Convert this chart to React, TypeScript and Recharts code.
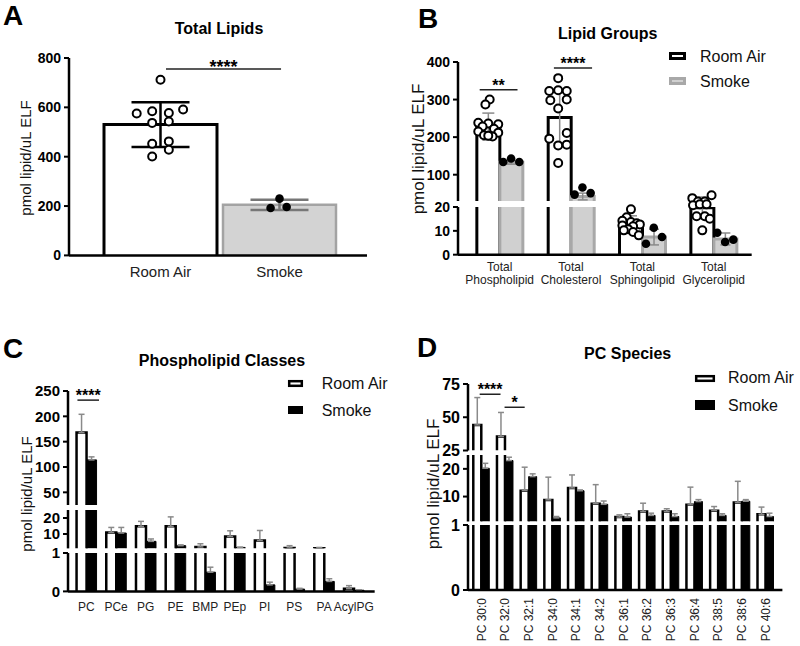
import React from "react";
import {
  ComposedChart,
  Bar,
  ErrorBar,
  Scatter,
  XAxis,
  YAxis,
  ReferenceLine,
} from "recharts";

const FONT = "Arial, 'Liberation Sans', Helvetica, sans-serif";

// ---- A: Total Lipids ----
const A_CATS = ["Room Air", "Smoke"];
const A_MEAN = [530, 205];
const A_SD = [91, 21];
const A_RA_DOTS = [712, 575, 584, 577, 591, 537, 543, 452, 462, 401, 428];
const A_SMOKE_DOTS = [192, 230, 196];

// ---- B: Lipid Groups ----
const B_CATS = [
  "Total Phospholipid",
  "Total Cholesterol",
  "Total Sphingolipid",
  "Total Glycerolipid",
];
const B_RA = [228, 252, 13.3, 19.7];
const B_RA_SD = [36, 70, 3, 4.5];
const B_SMOKE = [133, 42, 7.4, 6.6];
const B_SMOKE_SD = [5, 9, 3.3, 2.5];
const B_RA_DOTS = [
  [300, 287, 238, 236, 234, 228, 222, 215, 212, 205, 202, 204],
  [357, 323, 325, 323, 298, 300, 276, 196, 211, 178, 180, 131],
  [19.3, 16, 14.5, 14, 13.5, 13, 12.5, 12.2, 11, 10.5, 9.8, 8.4],
  [24, 22.6, 22.6, 25.2, 21, 21.4, 21.4, 16.4, 16.4, 15.4, 10.5],
];
const B_SMOKE_DOTS = [
  [134, 143, 134],
  [47, 66, 51],
  [4.9, 11.6, 7.7],
  [9.5, 5.6, 6.6],
];

// ---- C: Phospholipid Classes ----
const C_CATS = ["PC", "PCe", "PG", "PE", "BMP", "PEp", "PI", "PS", "PA", "AcylPG"];
const C_RA = [168, 11, 14.8, 14.8, 1.9, 8.5, 6, 1.3, 1.1, 0.07];
const C_RA_SD = [36, 3.1, 3.1, 5.9, 2.0, 3.5, 6.2, 1.4, 0.5, 0.08];
const C_SMOKE = [114, 10.6, 5.4, 2.7, 0.5, 1.6, 0.17, 0.06, 0.26, 0.03];
const C_SMOKE_SD = [6, 3.5, 1.5, 0.5, 0.13, 0.15, 0.07, 0.02, 0.07, 0.01];

// ---- D: PC Species ----
const D_CATS = [
  "PC 30:0", "PC 32:0", "PC 32:1", "PC 34:0", "PC 34:1", "PC 34:2", "PC 36:1",
  "PC 36:2", "PC 36:3", "PC 36:4", "PC 38:5", "PC 38:6", "PC 40:6",
];
const D_RA = [44.2, 35.6, 12.1, 8.8, 13.1, 7.4, 2.6, 4.6, 4.6, 7.0, 4.9, 7.9, 3.6];
const D_RA_SD = [20.6, 18, 8.5, 8.2, 4.7, 6.9, 0.8, 3, 1, 6.4, 1.5, 7.6, 2.6];
const D_SMOKE = [20.2, 23, 17.2, 2.3, 12.1, 7.2, 2.6, 3.2, 2.8, 8.2, 3.2, 8.3, 2.8];
const D_SMOKE_SD = [1.8, 1.2, 1.0, 0.5, 0.3, 1.2, 1.2, 0.8, 1.0, 0.7, 0.6, 0.6, 1.2];

// dot spread, as a fraction of one category band
const A_RA_JIT = [0, -0.2, -0.07, 0.07, 0.19, -0.07, 0.07, -0.07, 0.07, -0.07, 0.07];
const A_SMOKE_JIT = [-0.075, 0, 0.06];
const B_RA_JIT = [
  [0.02, -0.04, -0.14, 0, 0.14, -0.08, 0.08, -0.14, 0.14, -0.06, 0.06, 0],
  [-0.02, -0.145, -0.02, 0.1, -0.13, 0.1, -0.02, -0.145, 0.1, -0.02, 0.1, -0.02],
  [0, -0.06, -0.12, 0, 0.08, 0.125, -0.12, 0.03, -0.04, -0.1, 0.03, 0.11],
  [-0.14, -0.06, 0.035, 0.13, -0.13, -0.035, 0.06, -0.08, 0.035, 0.105, 0],
];
const SMOKE_JIT = [-0.11, 0, 0.115];

type BarStyle = { fill: string; stroke: string; sw: number };
type ErrDef = { key: string; stroke: string; sw: number; w: number };
type BarDef = { key: string; style: BarStyle | ((row: any) => BarStyle); errs: ErrDef[] };
type Sig = { x0: number; x1: number; y: number; text: string };
type DotSet = { pts: { x: number; y: number }[]; shape: (p: any) => any };
type Series = { key: string; vals: number[]; errs: number[]; oneSided?: boolean };

// rows for one piece of a broken axis: bars clamped to [lo, hi]
function buildRows(cats: string[], series: Series[], lo: number, hi: number) {
  return cats.map((cat, i) => {
    const row: any = { cat };
    series.forEach((s) => {
      const v = s.vals[i];
      row[s.key] = v < lo ? null : Math.min(v, hi);
      row[s.key + "Over"] = v > hi;
      const e = s.errs[i];
      row[s.key + "Err"] = v >= lo && v <= hi ? (s.oneSided ? [0, e] : e) : null;
    });
    return row;
  });
}

function barShape(key: string, style: BarDef["style"]) {
  return (p: any) => {
    const row = p.payload || {};
    if (row[key] == null || !(p.height > 0)) return <g />;
    const s = typeof style === "function" ? style(row) : style;
    const { x, y, width: w, height: h } = p;
    const d = row[key + "Over"]
      ? `M${x},${y + h}V${y}M${x + w},${y}V${y + h}`
      : `M${x},${y + h}V${y}H${x + w}V${y + h}`;
    return (
      <g>
        <rect x={x} y={y} width={w} height={h} fill={s.fill} />
        <path d={d} fill="none" stroke={s.stroke} strokeWidth={s.sw} />
      </g>
    );
  };
}

const openDot = (p: any) => (
  <circle cx={p.cx} cy={p.cy} r={4} fill="#fff" stroke="#000" strokeWidth={2} />
);
const solidDot = (p: any) => <circle cx={p.cx} cy={p.cy} r={4.3} fill="#000" />;

function dotPoints(groups: number[][], jit: number[][], center: number, keep: (v: number) => boolean) {
  const pts: { x: number; y: number }[] = [];
  groups.forEach((vals, i) =>
    vals.forEach((v, k) => {
      if (keep(v)) pts.push({ x: i + center + jit[i][k], y: v });
    })
  );
  return pts;
}

const TwoLineTick = (p: any) => {
  const [a, b] = String(p.payload.value).split(" ");
  return (
    <text x={p.x} y={p.y} textAnchor="middle" fontSize={12} fill="#222" fontFamily={FONT}>
      <tspan x={p.x} dy={12}>{a}</tspan>
      <tspan x={p.x} dy={13.5}>{b}</tspan>
    </text>
  );
};

const RotTick = (p: any) => (
  <text
    x={p.x}
    y={p.y}
    transform={`rotate(-90, ${p.x}, ${p.y})`}
    textAnchor="end"
    dy="0.35em"
    fontSize={12}
    fill="#222"
    fontFamily={FONT}
  >
    {p.payload.value}
  </text>
);

const AXW = 60;
const PT = 16;
const PR = 12;
const PB = 12;

type SegProps = {
  plot: [number, number, number, number];
  domain: [number, number];
  ticks?: number[];
  tickFont?: number;
  n: number;
  pad: [number, number];
  gap: number | string;
  rows: any[];
  bars?: BarDef[];
  dots?: DotSet[];
  sigs?: Sig[];
  sigFont?: number;
  sigOffset?: number;
  xAxis?: { height: number; margin: number; tick: any };
  ghost?: boolean;
};

function Segment(p: SegProps) {
  const [px, py, pw, ph] = p.plot;
  const xh = p.xAxis ? p.xAxis.height : 0;
  const mb = p.xAxis ? 0 : PB;
  const W = pw + AXW + PR;
  const H = ph + PT + xh + mb;
  const axisLine = { stroke: "#000", strokeWidth: 2.5 };
  return (
    <div style={{ position: "absolute", left: px - AXW, top: py - PT, width: W, height: H }}>
      <ComposedChart
        width={W}
        height={H}
        data={p.rows}
        margin={{ top: PT, right: PR, bottom: mb, left: p.ghost ? AXW : 0 }}
        barCategoryGap={p.gap}
        barGap={0}
      >
        <XAxis
          xAxisId="c"
          dataKey="cat"
          type="category"
          interval={0}
          hide={!p.xAxis}
          height={xh || 30}
          padding={{ left: p.pad[0], right: p.pad[1] }}
          axisLine={axisLine}
          tickLine={false}
          tickSize={0}
          tickMargin={p.xAxis ? p.xAxis.margin : 0}
          tick={p.xAxis ? p.xAxis.tick : false}
        />
        <XAxis
          xAxisId="n"
          dataKey="x"
          type="number"
          domain={[0, p.n]}
          allowDataOverflow
          hide
          padding={{ left: p.pad[0], right: p.pad[1] }}
        />
        <YAxis
          type="number"
          domain={p.domain}
          ticks={p.ticks}
          allowDataOverflow
          interval={0}
          hide={p.ghost}
          width={AXW}
          axisLine={axisLine}
          tickLine={{ stroke: "#000", strokeWidth: 2 }}
          tickSize={5}
          tickMargin={3}
          tick={{ fontSize: p.tickFont, fontWeight: 700, fill: "#000", fontFamily: FONT }}
        />
        {(p.bars || []).map((b) => (
          <Bar
            key={b.key}
            xAxisId="c"
            dataKey={b.key}
            isAnimationActive={false}
            shape={barShape(b.key, b.style)}
          >
            {b.errs.map((e) => (
              <ErrorBar
                key={e.key}
                dataKey={e.key}
                direction="y"
                stroke={e.stroke}
                strokeWidth={e.sw}
                width={e.w}
                isAnimationActive={false}
              />
            ))}
          </Bar>
        ))}
        {(p.dots || []).map((d, i) => (
          <Scatter
            key={i}
            xAxisId="n"
            data={d.pts}
            dataKey="y"
            shape={d.shape}
            isAnimationActive={false}
          />
        ))}
        {(p.sigs || []).map((s, i) => (
          <ReferenceLine
            key={i}
            xAxisId="n"
            segment={[
              { x: s.x0, y: s.y },
              { x: s.x1, y: s.y },
            ]}
            stroke="#222"
            strokeWidth={1.5}
            ifOverflow="visible"
            label={{
              value: s.text,
              position: "top",
              offset: p.sigOffset ?? -1,
              fontSize: p.sigFont ?? 16,
              fontWeight: 700,
              fill: "#000",
              fontFamily: FONT,
            }}
          />
        ))}
      </ComposedChart>
    </div>
  );
}

function Labels() {
  const yLabel = (x: number, y: number, size: number) => (
    <text
      x={x}
      y={y}
      fontSize={size}
      textAnchor="middle"
      dy="0.35em"
      transform={`rotate(-90, ${x}, ${y})`}
      fill="#111"
    >
      pmol lipid/uL ELF
    </text>
  );
  return (
    <svg
      width={800}
      height={646}
      style={{ position: "absolute", left: 0, top: 0 }}
      fontFamily={FONT}
    >
      <g fontSize={28} fontWeight={700}>
        <text x={3} y={25}>A</text>
        <text x={418} y={28}>B</text>
        <text x={3} y={358}>C</text>
        <text x={417} y={357}>D</text>
      </g>
      <g fontSize={16} fontWeight={700} textAnchor="middle" style={{ whiteSpace: "pre" }}>
        <text x={219} y={34}>Total Lipids</text>
        <text x={607.7} y={39}>Lipid Groups</text>
        <text x={222} y={365.6}>{"Phospholipid  Classes"}</text>
        <text x={627.7} y={359}>{"PC  Species"}</text>
      </g>
      {yLabel(25.5, 158, 15)}
      {yLabel(418.3, 149, 17)}
      {yLabel(26.7, 494, 15)}
      {yLabel(433.3, 484, 17)}
      <g fontSize={16} fill="#111">
        <rect x={670.5} y={53.5} width={14} height={5} fill="#fff" stroke="#000" strokeWidth={3} />
        <text x={700} y={61.6}>Room Air</text>
        <rect x={670.5} y={78.5} width={14} height={5} fill="#d0d0d0" stroke="#a8a8a8" strokeWidth={3} />
        <text x={700} y={86.6}>Smoke</text>

        <rect x={289.2} y={381.2} width={12.6} height={4.6} fill="#fff" stroke="#000" strokeWidth={2.5} />
        <text x={321.7} y={388.6}>Room Air</text>
        <rect x={288} y={406} width={15} height={8} fill="#000" />
        <text x={321.7} y={416.3}>Smoke</text>

        <rect x={696.2} y={376.2} width={17.6} height={4.6} fill="#fff" stroke="#000" strokeWidth={2.5} />
        <text x={728} y={383.3}>Room Air</text>
        <rect x={695} y={400} width={20} height={10} fill="#000" />
        <text x={728} y={410.6}>Smoke</text>
      </g>
    </svg>
  );
}

export default function App() {
  // ---- A ----
  const aRows = A_CATS.map((cat, i) => ({
    cat,
    v: A_MEAN[i],
    raErr: i === 0 ? A_SD[i] : null,
    smErr: i === 1 ? A_SD[i] : null,
  }));
  const aStyle = (row: any): BarStyle =>
    row.cat === "Room Air"
      ? { fill: "#fff", stroke: "#000", sw: 3 }
      : { fill: "#d3d3d3", stroke: "#a3a3a3", sw: 2.5 };

  // ---- B ----
  const B_GAP = 0.18;
  const bRaC = B_GAP + (1 - 2 * B_GAP) / 4;
  const bSmC = B_GAP + (3 * (1 - 2 * B_GAP)) / 4;
  const bSeries: Series[] = [
    { key: "ra", vals: B_RA, errs: B_RA_SD },
    { key: "sm", vals: B_SMOKE, errs: B_SMOKE_SD },
  ];
  const bBars: BarDef[] = [
    { key: "ra", style: { fill: "#fff", stroke: "#000", sw: 3 }, errs: [{ key: "raErr", stroke: "#8a8a8a", sw: 1.5, w: 6 }] },
    { key: "sm", style: { fill: "#d0d0d0", stroke: "#a8a8a8", sw: 3 }, errs: [{ key: "smErr", stroke: "#8a8a8a", sw: 1.5, w: 5 }] },
  ];
  const smokeJit = B_SMOKE_DOTS.map(() => SMOKE_JIT);
  const bDots = (keep: (v: number) => boolean): DotSet[] => [
    { pts: dotPoints(B_RA_DOTS, B_RA_JIT, bRaC, keep), shape: openDot },
    { pts: dotPoints(B_SMOKE_DOTS, smokeJit, bSmC, keep), shape: solidDot },
  ];
  const bCommon = { n: 4, pad: [6, 2.3] as [number, number], gap: `${B_GAP * 100}%`, tickFont: 14 };

  // ---- C / D ----
  const cdBars: BarDef[] = [
    { key: "ra", style: { fill: "#fff", stroke: "#000", sw: 2.5 }, errs: [{ key: "raErr", stroke: "#8a8a8a", sw: 1.5, w: 3 }] },
    { key: "sm", style: { fill: "#000", stroke: "#000", sw: 1 }, errs: [{ key: "smErr", stroke: "#8a8a8a", sw: 1.5, w: 3 }] },
  ];
  const cSeries: Series[] = [
    { key: "ra", vals: C_RA, errs: C_RA_SD, oneSided: true },
    { key: "sm", vals: C_SMOKE, errs: C_SMOKE_SD, oneSided: true },
  ];
  const dSeries: Series[] = [
    { key: "ra", vals: D_RA, errs: D_RA_SD, oneSided: true },
    { key: "sm", vals: D_SMOKE, errs: D_SMOKE_SD, oneSided: true },
  ];
  const cCommon = { n: 10, pad: [3.5, 6] as [number, number], gap: "17%", tickFont: 15, bars: cdBars };
  const dCommon = { n: 13, pad: [1.5, 5] as [number, number], gap: "16%", tickFont: 16, bars: cdBars };

  return (
    <div
      style={{
        position: "absolute",
        left: 0,
        top: 0,
        width: 800,
        height: 646,
        background: "#fff",
        fontFamily: FONT,
        overflow: "hidden",
      }}
    >
      <Labels />

      {/* A */}
      <Segment
        plot={[69, 58.3, 298, 197.4]}
        domain={[0, 800]}
        ticks={[0, 200, 400, 600, 800]}
        tickFont={14}
        n={2}
        pad={[32, 28]}
        gap={3}
        rows={aRows}
        bars={[
          {
            key: "v",
            style: aStyle,
            errs: [
              { key: "raErr", stroke: "#000", sw: 2.5, w: 29 },
              { key: "smErr", stroke: "#777", sw: 2.5, w: 29 },
            ],
          },
        ]}
        dots={[
          { pts: A_RA_DOTS.map((v, k) => ({ x: 0.5 + A_RA_JIT[k], y: v })), shape: openDot },
          { pts: A_SMOKE_DOTS.map((v, k) => ({ x: 1.5 + A_SMOKE_JIT[k], y: v })), shape: solidDot },
        ]}
        sigs={[{ x0: 0.546, x1: 1.513, y: 755, text: "****" }]}
        sigFont={18}
        sigOffset={-4}
        xAxis={{ height: 30, margin: 11, tick: { fontSize: 15, fill: "#222", fontFamily: FONT } }}
      />

      {/* B */}
      <Segment
        {...bCommon}
        plot={[458.3, 62.3, 293.7, 139]}
        domain={[30, 400]}
        ticks={[100, 200, 300, 400]}
        rows={buildRows(B_CATS, bSeries, 30, 400)}
        bars={bBars}
        dots={bDots((v) => v >= 30)}
        sigs={[
          { x0: 0.22, x1: 0.75, y: 326, text: "**" },
          { x0: 1.26, x1: 1.795, y: 384, text: "****" },
        ]}
      />
      <Segment
        {...bCommon}
        plot={[458.3, 207.3, 293.7, 47.7]}
        domain={[0, 20]}
        ticks={[0, 10, 20]}
        rows={buildRows(B_CATS, bSeries, 0, 20)}
        bars={bBars}
        xAxis={{ height: 36, margin: 4, tick: TwoLineTick }}
      />
      <Segment
        {...bCommon}
        ghost
        plot={[458.3, 159.6, 293.7, 95.4]}
        domain={[0, 40]}
        rows={B_CATS.map((cat) => ({ cat }))}
        dots={bDots((v) => v < 30)}
      />

      {/* C */}
      <Segment
        {...cCommon}
        plot={[68.3, 391, 306.7, 114]}
        domain={[25, 250]}
        ticks={[50, 100, 150, 200, 250]}
        rows={buildRows(C_CATS, cSeries, 25, 250)}
        sigs={[{ x0: 0.2, x1: 0.925, y: 232, text: "****" }]}
      />
      <Segment
        {...cCommon}
        plot={[68.3, 510.3, 306.7, 38.4]}
        domain={[1, 25]}
        ticks={[10, 20]}
        rows={buildRows(C_CATS, cSeries, 1, 25)}
      />
      <Segment
        {...cCommon}
        plot={[68.3, 553.3, 306.7, 38.4]}
        domain={[0, 1]}
        ticks={[0, 1]}
        rows={buildRows(C_CATS, cSeries, 0, 1)}
        xAxis={{ height: 30, margin: 11.3, tick: { fontSize: 12, fill: "#222", fontFamily: FONT } }}
      />

      {/* D */}
      <Segment
        {...dCommon}
        plot={[468.3, 384, 314.4, 66.5]}
        domain={[25, 75]}
        ticks={[25, 50, 75]}
        rows={buildRows(D_CATS, dSeries, 25, 75)}
        sigs={[
          { x0: 0.43, x1: 1.31, y: 67.3, text: "****" },
          { x0: 1.48, x1: 2.33, y: 57.5, text: "*" },
        ]}
      />
      <Segment
        {...dCommon}
        plot={[468.3, 454.5, 314.4, 66.5]}
        domain={[1, 25]}
        ticks={[10, 20]}
        rows={buildRows(D_CATS, dSeries, 1, 25)}
      />
      <Segment
        {...dCommon}
        plot={[468.3, 525, 314.4, 65]}
        domain={[0, 1]}
        ticks={[0, 1]}
        rows={buildRows(D_CATS, dSeries, 0, 1)}
        xAxis={{ height: 56, margin: 8, tick: RotTick }}
      />
    </div>
  );
}
